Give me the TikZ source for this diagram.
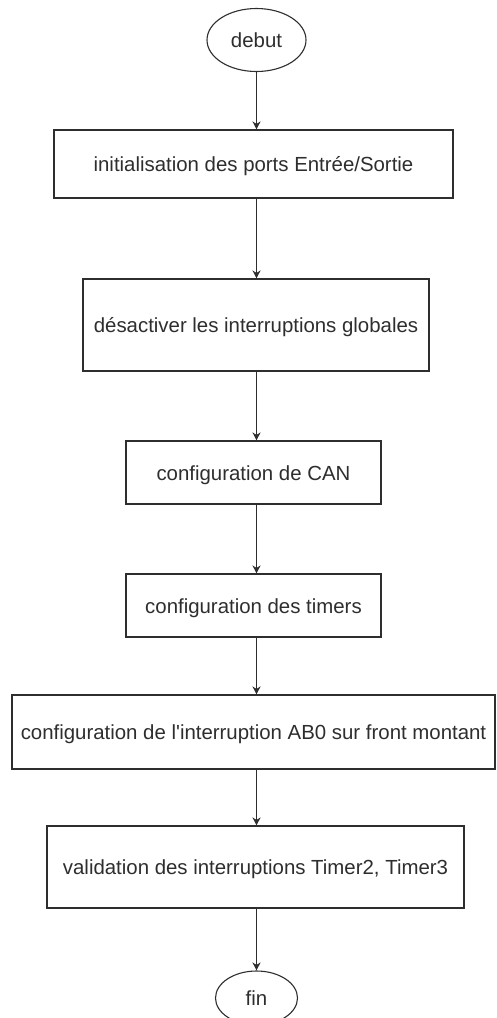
\documentclass[tikz,border=0pt]{standalone}
\usepackage{fontspec}
\setmainfont{Liberation Sans}
\usetikzlibrary{shapes.geometric,arrows.meta}
\definecolor{ink}{HTML}{2E2E2E}
\begin{document}
\begin{tikzpicture}[x=1pt,y=-1pt,
  every node/.style={text=ink,font=\fontsize{20.4}{24}\selectfont,
    text height=15pt,text depth=0pt},
  term/.style={ellipse,draw=ink,line width=1.1pt,inner sep=0pt},
  stepbox/.style={rectangle,draw=ink,line width=1.1pt,inner sep=0pt},
  flow/.style={draw=ink,line width=1.1pt,-{Stealth[length=8pt,width=8pt,inset=2.5pt]}}]
\useasboundingbox (0,0) rectangle (496,1018);
\clip (0,0) rectangle (496,1018);
\fill[white] (0,0) rectangle (496,1018);
% start / end terminals
\node[term,minimum width=99pt,minimum height=63pt] (debut) at (256.5,40) {debut};
\node[term,minimum width=82pt,minimum height=54pt] (fin) at (256.5,998) {fin};
% processing steps
\node[stepbox,minimum width=399pt,minimum height=68pt] (b1) at (253.5,164) {initialisation des ports Entrée/Sortie};
\node[stepbox,minimum width=346pt,minimum height=92pt] (b2) at (256,325) {désactiver les interruptions globales};
\node[stepbox,minimum width=255pt,minimum height=63pt] (b3) at (253.5,472.5) {configuration de CAN};
\node[stepbox,minimum width=255pt,minimum height=63pt] (b4) at (253.5,605.5) {configuration des timers};
\node[stepbox,minimum width=483pt,minimum height=74pt] (b5) at (253.5,732) {configuration de l\textquotesingle interruption AB0 sur front montant};
\node[stepbox,minimum width=417pt,minimum height=82pt] (b6) at (255.5,867) {validation des interruptions Timer2, Timer3};
% connectors along the vertical spine
\coordinate (spine) at (256.5,0);
\draw[flow] (debut.south) -- (spine |- b1.north);
\draw[flow] (spine |- b1.south) -- (spine |- b2.north);
\draw[flow] (spine |- b2.south) -- (spine |- b3.north);
\draw[flow] (spine |- b3.south) -- (spine |- b4.north);
\draw[flow] (spine |- b4.south) -- (spine |- b5.north);
\draw[flow] (spine |- b5.south) -- (spine |- b6.north);
\draw[flow] (spine |- b6.south) -- (fin.north);
\end{tikzpicture}
\end{document}
